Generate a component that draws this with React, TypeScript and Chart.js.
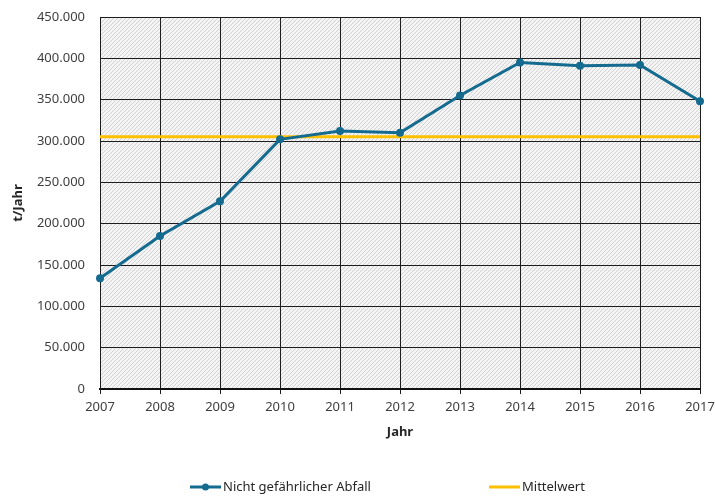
import React, { useEffect, useRef } from 'react';
import { Chart, registerables } from 'chart.js';
Chart.register(...registerables);

const years = ['2007', '2008', '2009', '2010', '2011', '2012', '2013', '2014', '2015', '2016', '2017'];
const abfall = [134000, 185000, 227000, 302000, 312000, 310000, 355000, 395000, 391000, 392000, 348000];
const mittelwert = [305000, 305000, 305000, 305000, 305000, 305000, 305000, 305000, 305000, 305000, 305000];
const seriesLabels = ['Nicht gefährlicher Abfall', 'Mittelwert'];
const yTitle = 't/Jahr';
const xTitle = 'Jahr';

const FONT = '"Noto Sans", "Open Sans", sans-serif';
const BLUE = '#146b8f';
const GOLD = '#ffc000';

function makePattern(ctx: CanvasRenderingContext2D) {
  const c = document.createElement('canvas');
  c.width = 4;
  c.height = 4;
  const p = c.getContext('2d')!;
  p.fillStyle = '#f4f4f4';
  p.fillRect(0, 0, 4, 4);
  p.strokeStyle = '#d2d2d2';
  p.lineWidth = 1;
  p.beginPath();
  p.moveTo(-1, 5);
  p.lineTo(5, -1);
  p.moveTo(-1, 1);
  p.lineTo(1, -1);
  p.moveTo(3, 5);
  p.lineTo(5, 3);
  p.stroke();
  return ctx.createPattern(c, 'repeat')!;
}

const hatchPlugin = {
  id: 'hatch',
  beforeDraw(chart: any) {
    const { ctx, chartArea } = chart;
    ctx.save();
    ctx.fillStyle = makePattern(ctx);
    ctx.fillRect(chartArea.left, chartArea.top, chartArea.right - chartArea.left, chartArea.bottom - chartArea.top);
    ctx.restore();
  },
};

const legendPlugin = {
  id: 'customLegend',
  afterDraw(chart: any) {
    const { ctx } = chart;
    const y = 487;
    const items = [
      { x: 190, ds: chart.data.datasets[0], marker: true },
      { x: 489, ds: chart.data.datasets[1], marker: false },
    ];
    ctx.save();
    ctx.font = `13px ${FONT}`;
    ctx.textBaseline = 'middle';
    ctx.textAlign = 'left';
    for (const it of items) {
      ctx.strokeStyle = it.ds.borderColor;
      ctx.lineWidth = 3;
      ctx.beginPath();
      ctx.moveTo(it.x, y);
      ctx.lineTo(it.x + 31, y);
      ctx.stroke();
      if (it.marker) {
        ctx.fillStyle = it.ds.borderColor;
        ctx.beginPath();
        ctx.arc(it.x + 15.5, y, 3.5, 0, Math.PI * 2);
        ctx.fill();
      }
      ctx.fillStyle = '#262626';
      ctx.fillText(it.ds.label, it.x + 33, y);
    }
    ctx.restore();
  },
};

export default function App() {
  const ref = useRef<HTMLCanvasElement>(null);
  useEffect(() => {
    document.body.style.margin = '0';
    const chart = new Chart(ref.current!, {
      type: 'line',
      data: {
        labels: years,
        datasets: [
          {
            label: seriesLabels[0],
            data: abfall,
            borderColor: BLUE,
            backgroundColor: BLUE,
            borderWidth: 3,
            pointRadius: 4,
            pointBackgroundColor: BLUE,
            pointBorderWidth: 0,
            tension: 0,
            order: 1,
          },
          {
            label: seriesLabels[1],
            data: mittelwert,
            borderColor: GOLD,
            backgroundColor: GOLD,
            borderWidth: 3,
            pointRadius: 0,
            tension: 0,
            order: 2,
          },
        ],
      },
      options: {
        responsive: false,
        animation: false,
        layout: { padding: { left: 0, right: 15, top: 17, bottom: 56 } },
        plugins: { legend: { display: false }, tooltip: { enabled: false } },
        scales: {
          x: {
            offset: false,
            grid: { color: '#1e1e1e', lineWidth: 1, tickLength: 5, drawTicks: true, tickColor: '#1e1e1e' },
            border: { color: '#111111', width: 2 },
            ticks: { color: '#404040', font: { family: FONT, size: 13 }, padding: 5, maxRotation: 0, autoSkip: false },
            title: { display: true, text: xTitle, color: '#262626', font: { family: FONT, size: 13, weight: 'bold' }, padding: { top: 0, bottom: 0 } },
            afterFit(scale: any) {
              scale.height = 51;
              scale.paddingLeft = 0;
              scale.paddingRight = 0;
            },
          },
          y: {
            min: 0,
            max: 450000,
            grid: { color: '#1e1e1e', lineWidth: 1, drawTicks: false },
            border: { color: '#1e1e1e', width: 1 },
            ticks: {
              stepSize: 50000,
              color: '#404040',
              font: { family: FONT, size: 13 },
              padding: 15,
              callback: (v: any) => Number(v).toLocaleString('de-DE'),
            },
            title: { display: true, text: yTitle, color: '#262626', font: { family: FONT, size: 13, weight: 'bold' }, padding: { top: 10, bottom: 0 } },
            afterFit(scale: any) {
              scale.width = 100;
              scale.paddingTop = 0;
              scale.paddingBottom = 0;
            },
          },
        },
      },
      plugins: [hatchPlugin, legendPlugin],
    });
    return () => chart.destroy();
  }, []);
  return <canvas ref={ref} width={715} height={496} style={{ display: 'block' }} />;
}
